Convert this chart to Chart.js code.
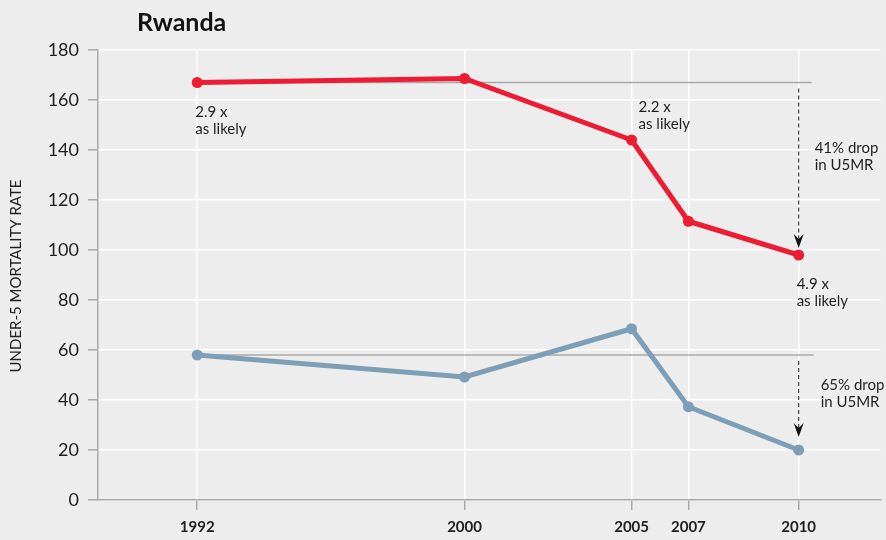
<!DOCTYPE html>
<html>
<head>
<meta charset="utf-8">
<script src="https://cdn.jsdelivr.net/npm/chart.js@4.4.1/dist/chart.umd.min.js"></script>
<style>
  html, body { margin: 0; padding: 0; background: #ededed; }
  #chart { display: block; }
</style>
</head>
<body>
<canvas id="chart" width="886" height="540"></canvas>
<script>
// datos (Rwanda, U5MR)
// la encuesta 2007-08 aparece algo a la izquierda de 2007 en el original
const surveyX = [1992, 2000, 2005, 2006.7, 2010];
const tickLabels = ['1992', '2000', '2005', '2007', '2010'];
const poorest = [167, 168.6, 144, 111.5, 98];
const richest = [58, 49.2, 68.5, 37.3, 20];
const yTicks = [0, 20, 40, 60, 80, 100, 120, 140, 160, 180];
const chartTitle = 'Rwanda';
const yTitle = 'UNDER-5 MORTALITY RATE';
const ratioNotes = [
    { at: 0, value: 167, lines: ['2.9 x', 'as likely'] },
    { at: 2, value: 144, lines: ['2.2 x', 'as likely'] },
    { at: 4, value: 98, lines: ['4.9 x', 'as likely'] }
];
const dropNotes = [
    { from: 167, to: 98, lines: ['41% drop', 'in U5MR'] },
    { from: 58, to: 20, lines: ['65% drop', 'in U5MR'] }
];

const FONT = 'Lato, "Open Sans", sans-serif';
const RED = '#ed1c33';
const BLUE = '#7c9fb7';
const AXIS = '#a9a9a9';
const INK = '#1e1e1e';

function arrowDown(ctx, x, y0, y1) {
    ctx.save();
    ctx.strokeStyle = '#4a4a4a';
    ctx.lineWidth = 1.3;
    ctx.setLineDash([4, 3]);
    ctx.beginPath();
    ctx.moveTo(x, y0);
    ctx.lineTo(x, y1 - 6);
    ctx.stroke();
    ctx.setLineDash([]);
    ctx.fillStyle = '#111';
    ctx.beginPath();
    ctx.moveTo(x, y1);
    ctx.lineTo(x - 5, y1 - 14);
    ctx.lineTo(x, y1 - 9);
    ctx.lineTo(x + 5, y1 - 14);
    ctx.closePath();
    ctx.fill();
    ctx.restore();
}

function lines(ctx, arr, x, y, gap) {
    arr.forEach((t, i) => ctx.fillText(t, x, y + i * gap));
}

const extras = {
    id: 'extras',
    beforeDatasetsDraw(chart) {
        const { ctx, scales: { x, y } } = chart;
        const xEnd = x.getPixelForValue(surveyX[4]);
        ctx.save();
        ctx.strokeStyle = AXIS;
        ctx.lineWidth = 1.5;
        // lineas de referencia al nivel de 1992
        [[poorest[0], 13], [richest[0], 15]].forEach(([v, ext]) => {
            ctx.beginPath();
            ctx.moveTo(x.getPixelForValue(surveyX[0]), y.getPixelForValue(v));
            ctx.lineTo(xEnd + ext, y.getPixelForValue(v));
            ctx.stroke();
        });
        ctx.restore();
    },
    afterDatasetsDraw(chart) {
        const { ctx, scales: { x, y } } = chart;
        const xEnd = x.getPixelForValue(surveyX[4]);
        ctx.save();
        // titulo
        ctx.fillStyle = '#111';
        ctx.font = 'bold 25px ' + FONT;
        ctx.textBaseline = 'middle';
        ctx.textAlign = 'left';
        ctx.fillText(chartTitle, 137, 23);

        // titulo eje y
        ctx.save();
        ctx.translate(16, 276);
        ctx.rotate(-Math.PI / 2);
        ctx.textAlign = 'center';
        ctx.font = '15px ' + FONT;
        ctx.fillStyle = INK;
        ctx.fillText(yTitle, 0, 0);
        ctx.restore();

        // notas de razon
        ctx.font = '15px ' + FONT;
        ctx.fillStyle = INK;
        const offs = [[-2, 30], [7, -33], [-2, 29]];
        ratioNotes.forEach((n, i) => {
            lines(ctx, n.lines, x.getPixelForValue(surveyX[n.at]) + offs[i][0], y.getPixelForValue(n.value) + offs[i][1], 17);
        });

        // flechas de caida
        const tips = [7, 13];
        dropNotes.forEach((d, i) => {
            arrowDown(ctx, xEnd, y.getPixelForValue(d.from) + 6, y.getPixelForValue(d.to) - tips[i]);
        });
        const d0 = dropNotes[0], d1 = dropNotes[1];
        lines(ctx, d0.lines, xEnd + 16, (y.getPixelForValue(d0.from) + y.getPixelForValue(d0.to)) / 2 - 21, 17);
        lines(ctx, d1.lines, xEnd + 22, (y.getPixelForValue(d1.from) + y.getPixelForValue(d1.to)) / 2 - 17, 17);
        ctx.restore();
    }
};

new Chart(document.getElementById('chart'), {
    type: 'line',
    data: {
        datasets: [
            {
                label: 'Poorest',
                data: surveyX.map((yr, i) => ({ x: yr, y: poorest[i] })),
                borderColor: RED, backgroundColor: RED,
                borderWidth: 5, pointRadius: 5.5, pointBorderWidth: 0, tension: 0
            },
            {
                label: 'Richest',
                data: surveyX.map((yr, i) => ({ x: yr, y: richest[i] })),
                borderColor: BLUE, backgroundColor: BLUE,
                borderWidth: 5, pointRadius: 5.5, pointBorderWidth: 0, tension: 0
            }
        ]
    },
    options: {
        responsive: false,
        animation: false,
        devicePixelRatio: 1,
        layout: { padding: { top: 50, left: 0, right: 0, bottom: 0 } },
        plugins: { legend: { display: false }, tooltip: { enabled: false } },
        scales: {
            x: {
                type: 'linear',
                min: 1989.03,
                max: 2012.45,
                afterBuildTicks: s => { s.ticks = surveyX.map(v => ({ value: v })); },
                afterFit: s => { s.height = 40; },
                ticks: {
                    callback: (v, i) => tickLabels[i],
                    color: INK,
                    font: { family: FONT, size: 15, weight: 'bold' },
                    padding: 8,
                    maxRotation: 0,
                    autoSkip: false
                },
                grid: { color: '#ffffff', lineWidth: 1.5, tickColor: AXIS, tickLength: 10 },
                border: { color: AXIS, width: 1.5 }
            },
            y: {
                min: 0,
                max: 180,
                afterBuildTicks: s => { s.ticks = yTicks.map(v => ({ value: v })); },
                afterFit: s => { s.width = 98; },
                ticks: {
                    color: INK,
                    font: { family: FONT, size: 18 },
                    padding: 9
                },
                grid: { color: '#ffffff', lineWidth: 1.5, tickColor: AXIS, tickLength: 10 },
                border: { color: AXIS, width: 1.5 }
            }
        }
    },
    plugins: [extras]
});
</script>
</body>
</html>
